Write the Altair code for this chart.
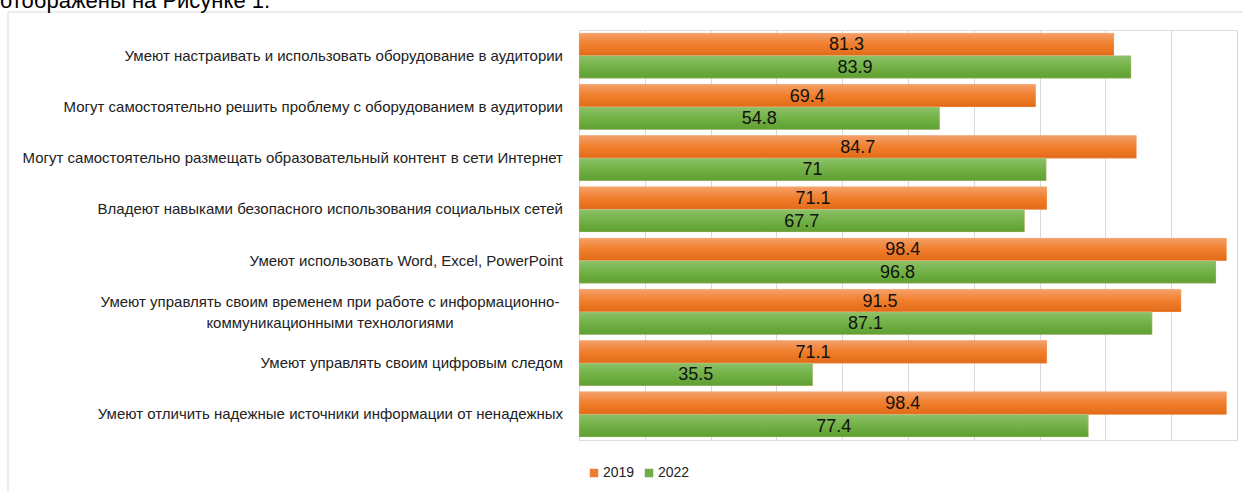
import altair as alt
import pandas as pd

categories = [
    "Умеют настраивать и использовать оборудование в аудитории",
    "Могут самостоятельно решить проблему с оборудованием в аудитории",
    "Могут самостоятельно размещать образовательный контент в сети Интернет",
    "Владеют навыками безопасного использования социальных сетей",
    "Умеют использовать Word, Excel, PowerPoint",
    "Умеют управлять своим временем при работе с информационно-коммуникационными технологиями",
    "Умеют управлять своим цифровым следом",
    "Умеют отличить надежные источники информации от ненадежных",
]
values_2019 = [81.3, 69.4, 84.7, 71.1, 98.4, 91.5, 71.1, 98.4]
values_2022 = [83.9, 54.8, 71, 67.7, 96.8, 87.1, 35.5, 77.4]
series = ["2019", "2022"]
colors = ["#ED7D31", "#70AD47"]
heading = "отображены на Рисунке 1."
wrapped_label = ["Умеют управлять своим временем при работе с информационно-",
                 "коммуникационными технологиями"]

rows = []
for c, a, b in zip(categories, values_2019, values_2022):
    rows.append({"category": c, "series": "2019", "value": a, "label": f"{a:g}"})
    rows.append({"category": c, "series": "2022", "value": b, "label": f"{b:g}"})
df = pd.DataFrame(rows)

cat_df = pd.DataFrame({"category": categories})
single_df = cat_df[cat_df["category"] != categories[5]]
wrap_df = pd.DataFrame({"category": [categories[5]], "lines": [wrapped_label]})
one = pd.DataFrame({"k": [0]})

grad_orange = alt.Gradient(gradient="linear", x1=0, y1=0, x2=0, y2=1,
                           stops=[alt.GradientStop(color="#F4A06A", offset=0),
                                  alt.GradientStop(color="#F07F2C", offset=0.5),
                                  alt.GradientStop(color="#E26A17", offset=1)])
grad_green = alt.Gradient(gradient="linear", x1=0, y1=0, x2=0, y2=1,
                          stops=[alt.GradientStop(color="#8DC26A", offset=0),
                                 alt.GradientStop(color="#72B146", offset=0.5),
                                 alt.GradientStop(color="#5FA031", offset=1)])

yscale = alt.Scale(domain=categories, paddingInner=0.12, paddingOuter=0.06)
y_enc = alt.Y("category:N", sort=categories, scale=yscale, axis=None)
yoff = alt.YOffset("series:N", sort=series, scale=alt.Scale(paddingInner=0, paddingOuter=0))
xscale = alt.Scale(domain=[0, 100], nice=False)

base = alt.Chart(df)

bars_legend = base.mark_bar().encode(
    x=alt.X("value:Q", scale=xscale,
            axis=alt.Axis(values=list(range(0, 101, 10)), labels=False, ticks=False,
                          domain=False, title=None, grid=True, gridColor="#D9D9D9",
                          gridWidth=1)),
    y=y_enc,
    yOffset=yoff,
    color=alt.Color("series:N", sort=series,
                    scale=alt.Scale(domain=series, range=colors),
                    legend=alt.Legend(orient="none", legendX=8, legendY=436,
                                      direction="horizontal", title=None,
                                      symbolType="square", symbolSize=72,
                                      symbolStrokeWidth=0,
                                      labelFont="Liberation Sans",
                                      labelFontSize=14, labelColor="#222222",
                                      labelOffset=2, columnPadding=7)),
)

bars_grad = base.mark_bar(stroke="#F8CBAD", strokeWidth=0.5, strokeOpacity=0.6).encode(
    x=alt.X("value:Q", scale=xscale),
    y=y_enc,
    yOffset=yoff,
    fill=alt.condition("datum.series == '2019'", alt.value(grad_orange), alt.value(grad_green)),
)

value_text = base.transform_calculate(mid="datum.value / 2").mark_text(
    font="Liberation Sans", fontSize=18, color="#111111", align="center", baseline="middle", dy=1,
).encode(
    x=alt.X("mid:Q", scale=xscale),
    y=y_enc,
    yOffset=yoff,
    text="label:N",
)

cat_text = alt.Chart(single_df).mark_text(
    font="Liberation Sans", fontSize=15, color="#222222", align="right", baseline="middle",
).encode(
    x=alt.value(-16),
    y=y_enc,
    text="category:N",
)

wrap_text = alt.Chart(wrap_df).mark_text(
    font="Liberation Sans", fontSize=15, color="#222222", align="center", baseline="middle",
    lineHeight=21, dy=-10,
).encode(
    x=alt.value(-249),
    y=y_enc,
    text="lines",
)

frame = alt.Chart(one).mark_rect(fill=None, stroke="#D9D9D9", strokeWidth=1).encode(
    x=alt.value(-571), x2=alt.value(700), y=alt.value(-18), y2=alt.value(500),
)

heading_text = alt.Chart(pd.DataFrame({"t": [heading]})).mark_text(
    font="Liberation Sans", fontSize=22, color="#000000", align="left", baseline="alphabetic",
).encode(
    x=alt.value(-579), y=alt.value(-22), text="t:N",
)

chart = alt.layer(
    frame, bars_legend, bars_grad, value_text, cat_text, wrap_text, heading_text
).properties(
    width=658, height=410,
    autosize=alt.AutoSizeParams(type="none"),
    padding={"left": 579, "top": 30, "right": 6, "bottom": 51},
).configure_view(stroke=None).configure(background="white")

chart.save("out.html", embed_options={"renderer": "svg", "actions": False})
